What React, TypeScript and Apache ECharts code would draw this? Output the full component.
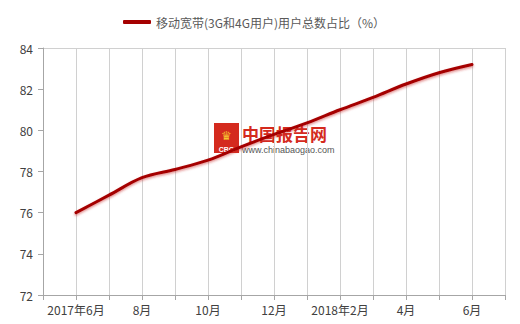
import React, { useEffect, useRef } from "react";
import * as echarts from "echarts";

const months = ["2017年6月", "7月", "8月", "9月", "10月", "11月", "12月", "2018年1月", "2月", "3月", "4月", "5月", "6月"];
const tickLabels = ["2017年6月", "8月", "10月", "12月", "2018年2月", "4月", "6月"];
const shareValues = [76.0, 76.85, 77.7, 78.1, 78.55, 79.2, 79.8, 80.36, 81.0, 81.6, 82.25, 82.8, 83.2];
const seriesName = "移动宽带(3G和4G用户)用户总数占比（%）";

const FONT = "'Noto Sans CJK SC', 'Liberation Sans', sans-serif";

export default function App() {
  const ref = useRef<HTMLDivElement>(null);
  useEffect(() => {
    if (!ref.current) return;
    const chart = echarts.init(ref.current, undefined, { renderer: "svg" });
    const cats = ["", ...months, ""];
    const data = ["-", ...shareValues, "-"];
    chart.setOption({
      animation: false,
      backgroundColor: "#ffffff",
      textStyle: { fontFamily: FONT },
      legend: {
        top: 11,
        left: 118,
        itemWidth: 28,
        itemHeight: 4,
        itemGap: 4,
        icon: "roundRect",
        textStyle: { fontSize: 12, color: "#595959", fontFamily: FONT },
        data: [{ name: seriesName, itemStyle: { color: "#a50000" } }],
      },
      grid: { left: 43, right: 15, top: 48, bottom: 29, containLabel: false },
      xAxis: {
        type: "category",
        boundaryGap: false,
        data: cats,
        axisLine: { show: true, lineStyle: { color: "#a6a6a6", width: 1 } },
        axisTick: { show: true, alignWithLabel: true, interval: 0, length: 5, lineStyle: { color: "#a6a6a6" } },
        axisLabel: {
          interval: 0,
          hideOverlap: false,
          color: "#404040",
          fontSize: 12,
          margin: 8,
          fontFamily: FONT,
          formatter: (_v: string, i: number) => (i % 2 === 1 && i <= 13 ? tickLabels[(i - 1) / 2] : ""),
        },
        splitLine: { show: true, interval: 0, lineStyle: { color: "#d0d0d0", width: 1 } },
      },
      yAxis: {
        type: "value",
        min: 72,
        max: 84,
        interval: 2,
        axisLine: { show: true, lineStyle: { color: "#a6a6a6" } },
        axisTick: { show: true, length: 5, lineStyle: { color: "#a6a6a6" } },
        axisLabel: { color: "#404040", fontSize: 12, margin: 10, fontFamily: FONT },
        splitLine: { show: false },
      },
      graphic: [
        { type: "line", shape: { x1: 43, y1: 48.5, x2: 505, y2: 48.5 }, style: { stroke: "#d0d0d0", lineWidth: 1 }, z: 0 },
        { type: "rect", shape: { x: 214, y: 123, width: 25, height: 30 }, style: { fill: "#d42a1e" }, z: 0 },
        { type: "text", x: 226.5, y: 136, style: { text: "♛", fill: "#f7c531", fontSize: 12, align: "center", verticalAlign: "middle" }, z: 1 },
        { type: "text", x: 226.5, y: 149, style: { text: "CBG", fill: "#ffffff", fontSize: 7, fontWeight: "bold", align: "center", verticalAlign: "middle", fontFamily: "Liberation Sans" }, z: 1 },
        { type: "text", x: 242, y: 125, style: { text: "中国报告网", fill: "#d42a1e", fontSize: 17, fontWeight: "bold", fontFamily: FONT }, z: 0 },
        { type: "text", x: 242, y: 145, style: { text: "www.chinabaogao.com", fill: "#555555", fontSize: 9, fontFamily: "'Liberation Sans', sans-serif" }, z: 0 },
      ],
      series: [
        {
          name: seriesName,
          type: "line",
          data,
          smooth: 0.35,
          symbol: "none",
          z: 5,
          lineStyle: {
            color: "#a50000",
            width: 3,
            cap: "round",
            shadowColor: "rgba(200,40,40,0.55)",
            shadowBlur: 2,
            shadowOffsetY: 1.5,
          },
          itemStyle: { color: "#a50000" },
        },
      ],
    });
    return () => chart.dispose();
  }, []);
  return <div ref={ref} style={{ width: 520, height: 324, position: "absolute", left: 0, top: 0 }} />;
}
